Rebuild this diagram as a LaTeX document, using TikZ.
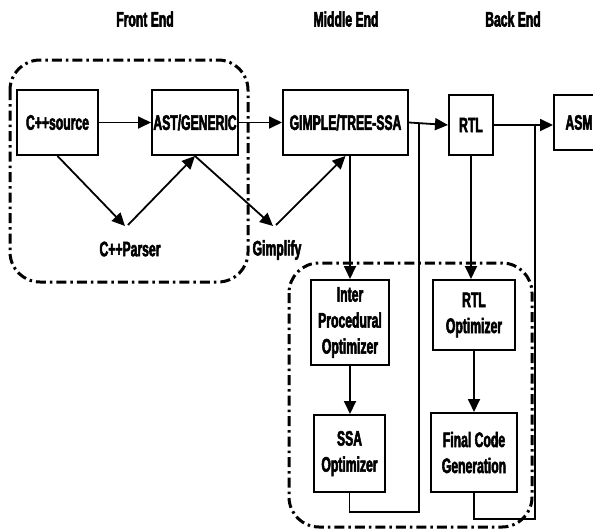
\documentclass[tikz,border=0pt]{standalone}
\usepackage{fontspec}
\setmainfont{Liberation Sans}[FakeStretch=0.58, BoldFeatures={FakeBold=2.5}]
\usetikzlibrary{arrows.meta}
\begin{document}
\begin{tikzpicture}[x=1pt,y=-1pt,
  lbl/.style={font=\fontsize{21}{26}\selectfont\bfseries, inner sep=0pt, align=center},
  box/.style={draw, line width=2pt, lbl, minimum width=#1},
  conn/.style={line width=1.8pt},
  arr/.style={conn, -{Triangle[length=13pt,width=12pt]}},
  group/.style={line width=3pt, rounded corners=30pt, dash pattern=on 10pt off 4pt on 2.5pt off 4pt}
]
\useasboundingbox (0,0) rectangle (593,530);
% titles
\node[lbl] (tfe) at (145,19) {Front End};
\node[lbl] (tme) at (346,19) {Middle End};
\node[lbl] (tbe) at (513,19) {Back End};
% groups
\draw[group] (10,60) rectangle (248,282);
\draw[group] (289,263) rectangle (532,527);
% main row
\node[box=81pt, minimum height=65pt] (src) at (57.5,122.5) {C++source};
\node[box=86pt, minimum height=65pt] (ast) at (195,122.5) {AST/GENERIC};
\node[box=125pt, minimum height=65pt] (gim) at (345.5,122.5) {GIMPLE/TREE-SSA};
\node[box=44pt, minimum height=60pt] (rtl) at (471,125) {RTL};
\node[box=50pt, minimum height=55pt] (asm) at (579,122.5) {ASM};
% optimizers
\node[box=78pt, minimum height=85pt] (ipo) at (350,322.5) {Inter\\Procedural\\Optimizer};
\node[box=71pt, minimum height=77pt] (ssa) at (349.5,453.5) {SSA\\Optimizer};
\node[box=82pt, minimum height=70pt] (rtlo) at (474,315) {RTL\\Optimizer};
\node[box=86pt, minimum height=79pt] (fcg) at (474,452.5) {Final Code\\Generation};
% labels
\node[lbl] (parser) at (130,249) {C++Parser};
\node[lbl] (gimp) at (277,250) {Gimplify};
\coordinate (pin) at (125,226);
\coordinate (pout) at (128,225);
\coordinate (gin) at (273,226);
\coordinate (gout) at (276,225);
\coordinate (j1) at (419,123.5);
\coordinate (j2) at (535,124.5);
% connectors
\draw[arr] (src) -- (ast);
\draw[arr] (ast) -- (gim);
\draw[arr] (gim.east) -- (rtl.west);
\draw[arr] (rtl.east) -- (asm.west |- rtl.east);
\draw[arr] (src.south) -- (pin);
\draw[arr] (pout) -- (ast.south);
\draw[arr] (ast.south) -- (gin);
\draw[arr] (gout) -- (gim.south);
\draw[arr] (ipo.north |- gim.south) -- (ipo.north);
\draw[arr] (ipo.south) -- (ipo.south |- ssa.north);
\draw[arr] (rtl.south) -- (rtl.south |- rtlo.north);
\draw[arr] (rtlo.south) -- (rtlo.south |- fcg.north);
\draw[conn] (ssa.south) -- ++(0,19) -| (j1);
\draw[conn] (fcg.south) -- ++(0,26) -| (j2);
\end{tikzpicture}
\end{document}
